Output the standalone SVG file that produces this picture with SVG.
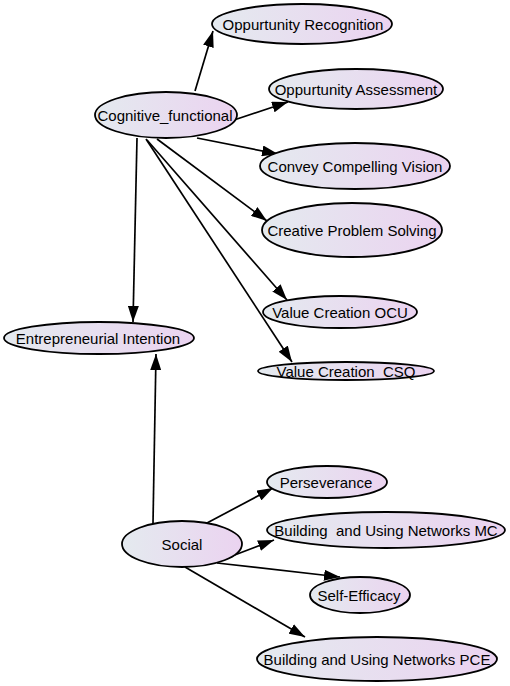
<svg xmlns="http://www.w3.org/2000/svg" width="510" height="686" viewBox="0 0 510 686">
<defs>
<linearGradient id="g" x1="0" y1="0" x2="1" y2="0">
<stop offset="0" stop-color="#e4eaef"/>
<stop offset="1" stop-color="#ebd3f0"/>
</linearGradient>
<marker id="a" markerWidth="16" markerHeight="11" refX="16" refY="5.5" orient="auto" markerUnits="userSpaceOnUse">
<path d="M0,0 L16,5.5 L0,11 z" fill="#000"/>
</marker>
</defs>
<style>
.n ellipse{fill:url(#g);stroke:#000;stroke-width:1.8}
.n text{font-family:"Liberation Sans",Arial,sans-serif;font-size:15px;fill:#000;text-anchor:middle;dominant-baseline:central}
#edges line{stroke:#000;stroke-width:1.7;marker-end:url(#a)}
</style>
<rect width="510" height="686" fill="#fff"/>
<g id="edges">
<line x1="195" y1="91" x2="213" y2="31"/>
<line x1="231" y1="121" x2="288" y2="102"/>
<line x1="197" y1="138" x2="278" y2="154"/>
<line x1="157" y1="139" x2="267" y2="221"/>
<line x1="147" y1="140" x2="287" y2="300"/>
<line x1="146" y1="139" x2="292" y2="362"/>
<line x1="137" y1="138" x2="133" y2="322"/>
<line x1="153" y1="523" x2="156" y2="354"/>
<line x1="207" y1="523" x2="273" y2="488"/>
<line x1="232" y1="556" x2="274" y2="540"/>
<line x1="217" y1="563" x2="340" y2="577"/>
<line x1="185" y1="567" x2="305" y2="637"/>
</g>
<g id="n_opprec" class="n"><ellipse cx="302" cy="24" rx="90" ry="20"/><text x="303" y="24">Oppurtunity Recognition</text></g>
<g id="n_oppass" class="n"><ellipse cx="356" cy="89" rx="87" ry="20"/><text x="356" y="89">Oppurtunity Assessment</text></g>
<g id="n_cog" class="n"><ellipse cx="166" cy="115" rx="71" ry="23"/><text x="165" y="115">Cognitive_functional</text></g>
<g id="n_convey" class="n"><ellipse cx="355" cy="166" rx="95" ry="23"/><text x="355" y="166">Convey Compelling Vision</text></g>
<g id="n_creative" class="n"><ellipse cx="352" cy="230" rx="90" ry="27"/><text x="352" y="230">Creative Problem Solving</text></g>
<g id="n_ocu" class="n"><ellipse cx="340" cy="312" rx="77" ry="16"/><text x="340" y="312">Value Creation OCU</text></g>
<g id="n_csq" class="n"><ellipse cx="346" cy="371" rx="88" ry="9"/><text x="346" y="371" xml:space="preserve">Value Creation  CSQ</text></g>
<g id="n_ei" class="n"><ellipse cx="99" cy="338" rx="95" ry="16"/><text x="98" y="338">Entrepreneurial Intention</text></g>
<g id="n_social" class="n"><ellipse cx="182" cy="544" rx="60" ry="23"/><text x="182" y="544">Social</text></g>
<g id="n_pers" class="n"><ellipse cx="327" cy="482" rx="60" ry="16"/><text x="326" y="482">Perseverance</text></g>
<g id="n_mc" class="n"><ellipse cx="386" cy="530" rx="119" ry="18"/><text x="386" y="530" xml:space="preserve">Building  and Using Networks MC</text></g>
<g id="n_self" class="n"><ellipse cx="360" cy="595" rx="50" ry="18"/><text x="359" y="595">Self-Efficacy</text></g>
<g id="n_pce" class="n"><ellipse cx="377" cy="659" rx="120" ry="22"/><text x="377" y="659">Building and Using Networks PCE</text></g>
</svg>
